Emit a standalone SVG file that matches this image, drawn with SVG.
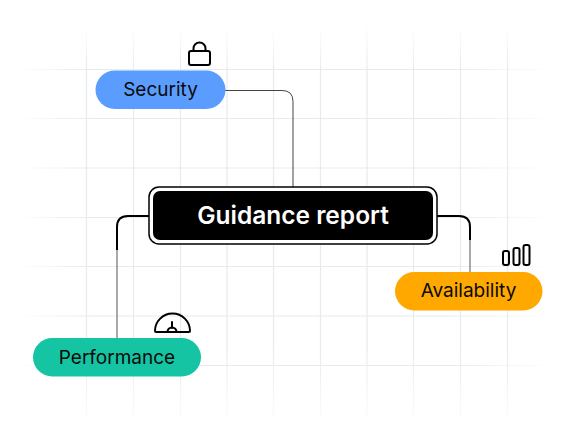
<svg xmlns="http://www.w3.org/2000/svg" width="570" height="440" viewBox="0 0 570 440">
<style>
.g{fill:none;stroke-width:1.2}
.lbl{font-family:Inter,"Liberation Sans",sans-serif;font-size:19px;fill:#0a0a0a;text-anchor:middle}
.ico{fill:none;stroke:#000;stroke-width:2;stroke-linejoin:round;stroke-linecap:round}
.con{fill:none;stroke-linejoin:round}
</style>
<defs>
<linearGradient id="gv" gradientUnits="userSpaceOnUse" x1="0" y1="24" x2="0" y2="418">
<stop offset="0" stop-color="#e6ebef" stop-opacity="0"/><stop offset=".12" stop-color="#e6ebef"/><stop offset=".82" stop-color="#e6ebef"/><stop offset="1" stop-color="#e6ebef" stop-opacity="0.2"/>
</linearGradient>
<linearGradient id="gh" gradientUnits="userSpaceOnUse" x1="14" y1="0" x2="557" y2="0">
<stop offset="0" stop-color="#e6ebef" stop-opacity="0"/><stop offset=".14" stop-color="#e6ebef"/><stop offset=".8" stop-color="#e6ebef"/><stop offset="1" stop-color="#e6ebef" stop-opacity="0"/>
</linearGradient>
</defs>
<rect width="570" height="440" fill="#fff"/>
<g id="grid" class="g">
<g stroke="url(#gv)">
<path d="M86.5 24V418M133.5 24V418M180.5 24V418M227 24V418M273.5 24V418M320.5 24V418M367 24V418M413.5 24V418M460.5 24V418M507.5 24V418"/>
</g>
<g stroke="url(#gh)">
<path d="M14 69.5H557M14 118.5H557M14 168H557M14 217.5H557M14 266.5H557M14 316H557M14 365.5H557"/>
</g>
</g>
<g id="connectors">
<path class="con" stroke="#444" stroke-width="1" d="M225 90.5H282Q293 90.5 293 101.5V187"/>
<path class="con" stroke="#000" stroke-width="2" d="M149 216H128Q117 216 117 227V250"/>
<path class="con" stroke="#555" stroke-width="1" d="M117 250V338"/>
<path class="con" stroke="#000" stroke-width="2" d="M437 216H459Q470 216 470 227V240"/>
<path class="con" stroke="#555" stroke-width="1" d="M470 240V272"/>
</g>
<g id="security">
<rect x="95.500" y="70.500" width="130" height="38.500" rx="19.250" fill="#5b9dff"/>
<text class="lbl" x="160.500" y="96">Security</text>
<g class="ico"><rect x="189" y="51" width="21" height="14" rx="2"/><path d="M193.500 51V48.500A6 6 0 0 1 205.500 48.500V51"/></g>
</g>
<g id="guidance-report">
<rect x="149" y="187" width="288" height="57" rx="10" fill="#fff" stroke="#000" stroke-width="1.500"/>
<rect x="153" y="191" width="280" height="49" rx="7" fill="#000"/>
<text x="293" y="224" font-family="Inter,'Liberation Sans',sans-serif" font-size="24.500" font-weight="600" fill="#fff" text-anchor="middle">Guidance report</text>
</g>
<g id="availability">
<rect x="395" y="272" width="147.500" height="38.500" rx="19.250" fill="#ffa900"/>
<text class="lbl" x="468.500" y="297">Availability</text>
<g class="ico"><rect x="503" y="251" width="6" height="14" rx="2"/><rect x="513.500" y="248" width="6" height="17" rx="2"/><rect x="523.500" y="245" width="6" height="20" rx="2"/></g>
</g>
<g id="performance">
<rect x="33" y="338" width="168" height="38.500" rx="19.250" fill="#14c4a2"/>
<text class="lbl" x="117" y="363.500">Performance</text>
<g class="ico"><path d="M155 331A17.500 17.500 0 0 1 190 331Q190 332 189 332H156Q155 332 155 331Z"/><path d="M172 322V328M167.500 332A4.500 4.500 0 0 1 176.500 332"/></g>
</g>
</svg>
